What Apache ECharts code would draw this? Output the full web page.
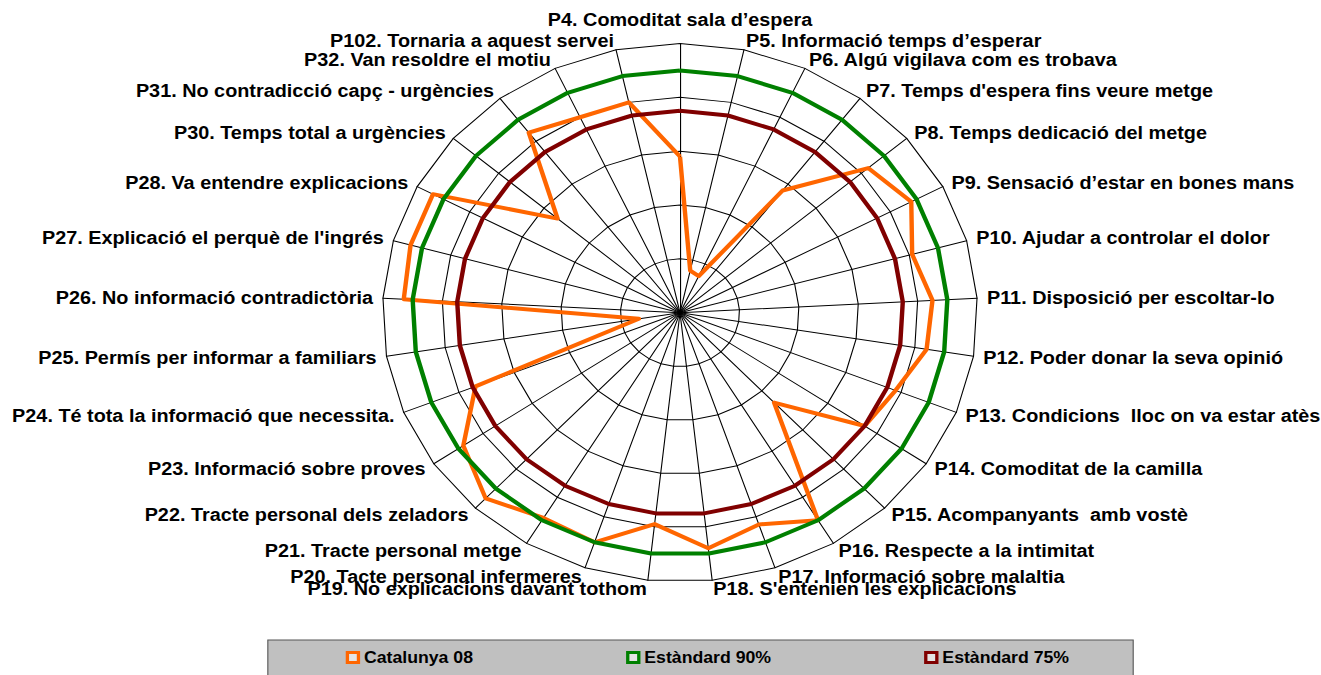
<!DOCTYPE html>
<html>
<head>
<meta charset="utf-8">
<script src="https://cdn.jsdelivr.net/npm/echarts@6/dist/echarts.min.js"></script>
<style>
html, body { margin: 0; padding: 0; overflow: hidden; background: #fff; width: 1321px; height: 675px; }
#chart { position: absolute; left: 0; top: 0; width: 1321px; height: 675px;
         transform-origin: 680px 0; transform: scaleX(1.105); }
</style>
</head>
<body>
<div id="chart"></div>
<script>
// Categories in the order the original chart lists them (clockwise from the top)
const categories = [
  'P4. Comoditat sala d\u2019espera',
  'P5. Informació temps d\u2019esperar',
  'P6. Algú vigilava com es trobava',
  "P7. Temps d'espera fins veure metge",
  'P8. Temps dedicació del metge',
  'P9. Sensació d\u2019estar en bones mans',
  'P10. Ajudar a controlar el dolor',
  'P11. Disposició per escoltar-lo',
  'P12. Poder donar la seva opinió',
  'P13. Condicions  lloc on va estar atès',
  'P14. Comoditat de la camilla',
  'P15. Acompanyants  amb vostè',
  'P16. Respecte a la intimitat',
  'P17. Informació sobre malaltia',
  "P18. S'entenien les explicacions",
  'P19. No explicacions davant tothom',
  'P20. Tacte personal infermeres',
  'P21. Tracte personal metge',
  'P22. Tracte personal dels zeladors',
  'P23. Informació sobre proves',
  'P24. Té tota la informació que necessita.',
  'P25. Permís per informar a familiars',
  'P26. No informació contradictòria',
  "P27. Explicació el perquè de l'ingrés",
  'P28. Va entendre explicacions',
  'P30. Temps total a urgències',
  'P31. No contradicció capç - urgències',
  'P32. Van resoldre el motiu',
  'P102. Tornaria a aquest servei'
];

const catalunya08 = [58, 16, 15, 57, 83, 88, 81, 85, 84, 78, 75, 46, 90, 83, 88,
                     79, 90, 89, 95, 88, 74, 14, 93, 94, 94, 54, 84, 80, 80];
const estandard90 = [90, 90, 90, 90, 90, 90, 90, 90, 90, 90, 90, 90, 90, 90, 90,
                     90, 90, 90, 90, 90, 90, 90, 90, 90, 90, 90, 90, 90, 90];
const estandard75 = [75, 75, 75, 75, 75, 75, 75, 75, 75, 75, 75, 75, 75, 75, 75,
                     75, 75, 75, 75, 75, 75, 75, 75, 75, 75, 75, 75, 75, 75];

const seriesNames = ['Catalunya 08', 'Estàndard 90%', 'Estàndard 75%'];
const seriesValues = [catalunya08, estandard90, estandard75];
const seriesColors = ['#FF6600', '#008000', '#800000'];
const axisMax = 100;

// The original runs clockwise; ECharts' radar runs counter-clockwise, so reorder.
const n = categories.length;
const order = [0];
for (let i = n - 1; i >= 1; i--) order.push(i);
const reorder = arr => order.map(i => arr[i]);

const chart = echarts.init(document.getElementById('chart'), null, { renderer: 'svg' });

const option = {
  animation: false,
  backgroundColor: '#ffffff',
  legend: {
    data: seriesNames.map((name, k) => ({
      name: name,
      itemStyle: { color: '#e4e4e4', borderColor: seriesColors[k], borderWidth: 3 }
    })),
    icon: 'rect',
    itemWidth: 10,
    itemHeight: 10,
    itemGap: 138.5,
    left: 307,
    top: 640,
    padding: [9.5, 58, 30, 70.5],
    backgroundColor: '#c0c0c0',
    borderColor: '#555555',
    borderWidth: 1,
    selectedMode: false,
    textStyle: { color: '#000', fontWeight: 'bold', fontSize: 16,
                 fontFamily: 'Liberation Sans, Arial, sans-serif' }
  },
  radar: {
    center: [680, 312.7],
    radius: 269.2,
    startAngle: 90,
    splitNumber: 5,
    shape: 'polygon',
    indicator: order.map(i => ({ name: categories[i], min: 0, max: axisMax })),
    axisName: {
      color: '#000',
      fontWeight: 'bold',
      fontSize: 17.95,
      fontFamily: 'Liberation Sans, Arial, sans-serif',
      // the label straight above the centre sits a little higher in the original
      formatter: (name, ind) => ind && ind.name === categories[0] ? '{top|' + name + '}' : name,
      rich: { top: { padding: [0, 0, 6, 0] } }
    },
    axisNameGap: 9,
    splitLine: { lineStyle: { color: '#000', width: 1 } },
    splitArea: { show: false },
    axisLine: { lineStyle: { color: '#000', width: 1 } },
    axisTick: { show: false },
    axisLabel: { show: false }
  },
  series: seriesNames.map((name, k) => ({
    type: 'radar',
    name: name,
    symbol: 'none',
    z: 2 + k,
    itemStyle: { color: seriesColors[k] },
    lineStyle: { color: seriesColors[k], width: 4 },
    data: [{ name: name, value: reorder(seriesValues[k]) }]
  }))
};

chart.setOption(option);
</script>
</body>
</html>
